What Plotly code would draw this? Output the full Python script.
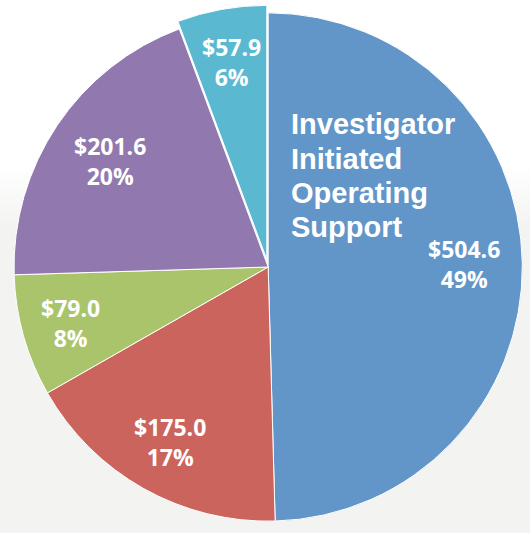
import math
import plotly.graph_objects as go

categories = ["Investigator Initiated Operating Support", "Category B", "Category C", "Category D", "Category E"]
values = [504.6, 175.0, 79.0, 201.6, 57.9]
value_labels = ["$504.6", "$175.0", "$79.0", "$201.6", "$57.9"]
pct_labels = ["49%", "17%", "8%", "20%", "6%"]
title_lines = ["Investigator", "Initiated", "Operating", "Support"]

# style
colors = ["#6296c9", "#cc645e", "#aac46c", "#9179b0", "#5bb8d1"]
pulls = [0, 0, 0, 0, 0.03]
label_radius = [0.77, 0.79, 0.81, 0.75, 0.79]

W, H = 530, 533
dom_x = [0.012, 1.0]
dom_y = [0.0079, 0.9902]

fig = go.Figure()

# soft backdrop gradient
fig.add_trace(go.Scatter(
    x=[-0.1, 1.1, 1.1, -0.1, -0.1], y=[-0.1, -0.1, 1.1, 1.1, -0.1], mode="lines", fill="toself",
    line=dict(width=0), hoverinfo="skip", showlegend=False,
    fillgradient=dict(type="vertical",
                      colorscale=[[0, "#f3f3f1"], [0.56, "#f3f3f1"], [0.66, "#ffffff"], [1, "#ffffff"]]),
))

fig.add_trace(go.Pie(
    labels=categories, values=values, sort=False, direction="clockwise", rotation=0,
    textinfo="none",
    marker=dict(colors=colors, line=dict(color="white", width=1)),
    pull=pulls, showlegend=False, hoverinfo="label+value",
    domain=dict(x=dom_x, y=dom_y),
))

# label placement derived from the pie geometry (same as plotly's)
wpx = (dom_x[1] - dom_x[0]) * W
hpx = (dom_y[1] - dom_y[0]) * H
r = min(wpx, hpx) / 2 / (1 + max(pulls))
cx = (dom_x[0] + dom_x[1]) / 2 * W
cy = (1 - (dom_y[0] + dom_y[1]) / 2) * H
total = sum(values)
cum = 0
for v, vl, pl, lr, pu in zip(values, value_labels, pct_labels, label_radius, pulls):
    mid = (cum + v / 2) / total * 2 * math.pi
    cum += v
    rr = r * (lr + pu)
    px = cx + rr * math.sin(mid)
    py = cy - rr * math.cos(mid)
    fig.add_annotation(
        x=px / W, y=1 - py / H, xref="paper", yref="paper", xanchor="center", yanchor="middle",
        text=f"{vl}<br>{pl}", showarrow=False, align="center",
        font=dict(family="Open Sans", size=23, color="white", weight="bold"),
    )

for i, line in enumerate(title_lines):
    fig.add_annotation(
        x=289 / W, y=1 - (124 + 34.5 * i) / H, xref="paper", yref="paper",
        xanchor="left", yanchor="middle",
        text=line, showarrow=False, align="left",
        font=dict(family="Liberation Sans", size=29, color="white", weight="bold"),
    )

fig.update_layout(
    width=W, height=H, margin=dict(l=0, r=0, t=0, b=0),
    paper_bgcolor="white", plot_bgcolor="rgba(0,0,0,0)",
    xaxis=dict(visible=False, range=[0, 1], fixedrange=True),
    yaxis=dict(visible=False, range=[0, 1], fixedrange=True),
)

fig.write_html("out.html", config={"displayModeBar": False},
               post_script="document.body.style.margin='0px';document.body.style.overflow='hidden';")
